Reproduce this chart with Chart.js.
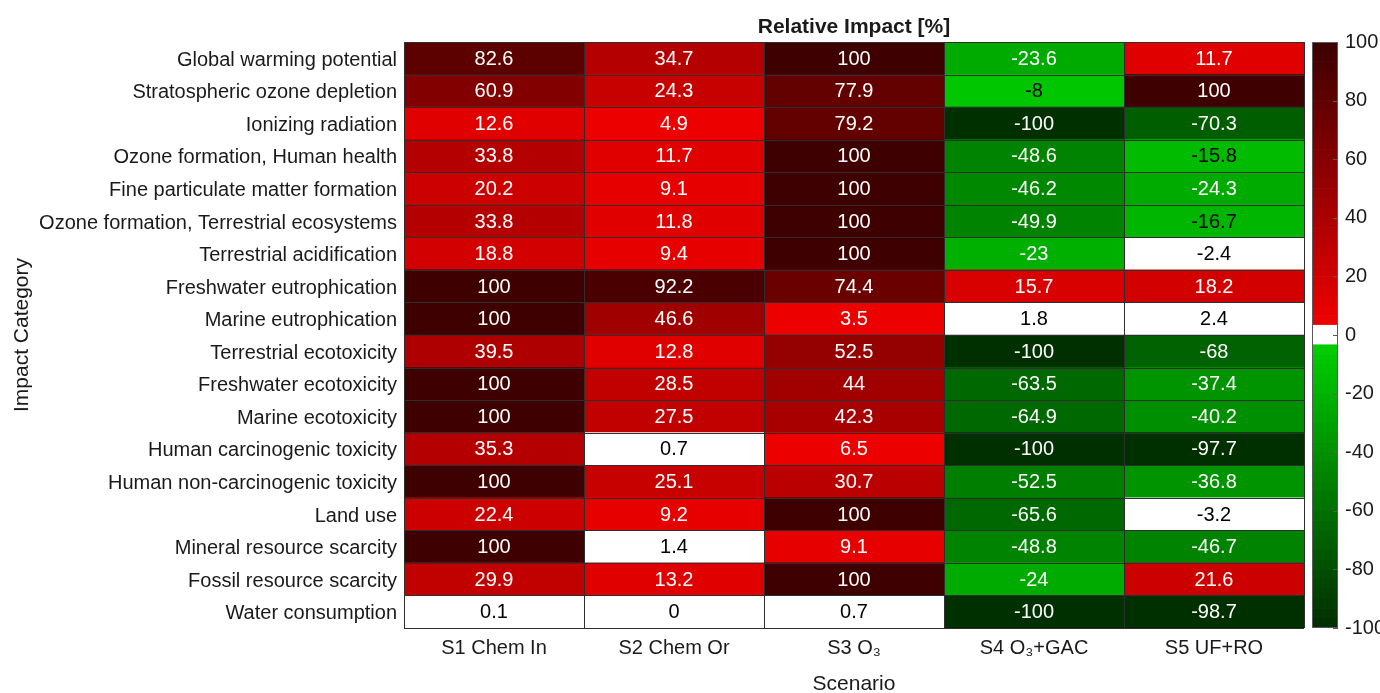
<!DOCTYPE html>
<html>
<head>
<meta charset="utf-8">
<script src="https://cdn.jsdelivr.net/npm/chart.js@4.4.1/dist/chart.umd.min.js"></script>
<style>
  html, body { margin: 0; padding: 0; background: #ffffff; }
  #wrap { position: relative; width: 1380px; height: 693px; }
  #main { position: absolute; left: 0; top: 0; }
  #cbar { position: absolute; left: 1300px; top: 0; }
</style>
</head>
<body>
<div id="wrap">
  <canvas id="main" width="1380" height="693"></canvas>
  <canvas id="cbar" width="80" height="693"></canvas>
</div>
<script>
// ---------------- data ----------------
const categories = [
  'Global warming potential',
  'Stratospheric ozone depletion',
  'Ionizing radiation',
  'Ozone formation, Human health',
  'Fine particulate matter formation',
  'Ozone formation, Terrestrial ecosystems',
  'Terrestrial acidification',
  'Freshwater eutrophication',
  'Marine eutrophication',
  'Terrestrial ecotoxicity',
  'Freshwater ecotoxicity',
  'Marine ecotoxicity',
  'Human carcinogenic toxicity',
  'Human non-carcinogenic toxicity',
  'Land use',
  'Mineral resource scarcity',
  'Fossil resource scarcity',
  'Water consumption'
];
const scenarios = ['S1 Chem In', 'S2 Chem Or', 'S3 O\u2083', 'S4 O\u2083+GAC', 'S5 UF+RO'];
const s1ChemIn = [82.6, 60.9, 12.6, 33.8, 20.2, 33.8, 18.8, 100, 100, 39.5, 100, 100, 35.3, 100, 22.4, 100, 29.9, 0.1];
const s2ChemOr = [34.7, 24.3, 4.9, 11.7, 9.1, 11.8, 9.4, 92.2, 46.6, 12.8, 28.5, 27.5, 0.7, 25.1, 9.2, 1.4, 13.2, 0];
const s3O3     = [100, 77.9, 79.2, 100, 100, 100, 100, 74.4, 3.5, 52.5, 44, 42.3, 6.5, 30.7, 100, 9.1, 100, 0.7];
const s4O3GAC  = [-23.6, -8, -100, -48.6, -46.2, -49.9, -23, 15.7, 1.8, -100, -63.5, -64.9, -100, -52.5, -65.6, -48.8, -24, -100];
const s5UFRO   = [11.7, 100, -70.3, -15.8, -24.3, -16.7, -2.4, 18.2, 2.4, -68, -37.4, -40.2, -97.7, -36.8, -3.2, -46.7, 21.6, -98.7];
const seriesValues = [s1ChemIn, s2ChemOr, s3O3, s4O3GAC, s5UFRO];
const colorbarTicks = [-100, -80, -60, -40, -20, 0, 20, 40, 60, 80, 100];
const colorMin = -100, colorMax = 100, colorLevels = 60;

// ---------------- colormap (style) ----------------
function levelOf(v) {
  return Math.min(colorLevels - 1, Math.max(0, Math.floor((v - colorMin) / (colorMax - colorMin) * colorLevels)));
}
function levelRGB(l) {
  if (l === 29 || l === 30) return [255, 255, 255];
  if (l >= 31) {
    const idx = l - 31;
    return [Math.round(236 - idx / 28 * 174), 0, 0];
  }
  return [0, Math.round(48 + l / 28 * 156), 0];
}
function rgbStr(c) { return 'rgb(' + c[0] + ',' + c[1] + ',' + c[2] + ')'; }
function colorFor(v) { return rgbStr(levelRGB(levelOf(v))); }
function textColorFor(v) {
  const c = levelRGB(levelOf(v));
  const lum = (0.299 * c[0] + 0.587 * c[1] + 0.114 * c[2]) / 255;
  return lum > 0.412 ? '#000000' : '#ffffff';
}

const FONT = "'Liberation Sans', Arial, Helvetica, sans-serif";
const FS = 20;

// ---------------- main heatmap ----------------
const datasets = scenarios.map((name, i) => ({
  label: name,
  data: categories.map(() => [i, i + 1]),
  values: seriesValues[i],
  backgroundColor: seriesValues[i].map(colorFor),
  borderWidth: 0,
  barPercentage: 1,
  categoryPercentage: 1,
  grouped: false
}));

// cell borders along the scales' cell boundaries, then the cell values
const cellGridAndText = {
  id: 'cellGridAndText',
  afterDatasetsDraw(chart) {
    const ctx = chart.ctx;
    const xs = chart.scales.x, ys = chart.scales.y;
    const a = chart.chartArea;
    ctx.save();
    ctx.strokeStyle = '#2e2e2e';
    ctx.lineWidth = 1;
    ctx.beginPath();
    for (let i = 0; i <= scenarios.length; i++) {
      const x = Math.round(xs.getPixelForValue(i)) + 0.5;
      ctx.moveTo(x, a.top);
      ctx.lineTo(x, a.bottom);
    }
    for (let r = 0; r <= categories.length; r++) {
      const y = Math.round(ys.getPixelForValue(r - 0.5)) + 0.5;
      ctx.moveTo(a.left, y);
      ctx.lineTo(a.right, y);
    }
    ctx.stroke();
    ctx.font = FS + 'px ' + FONT;
    ctx.textAlign = 'center';
    ctx.textBaseline = 'middle';
    chart.data.datasets.forEach((ds, di) => {
      const meta = chart.getDatasetMeta(di);
      meta.data.forEach((bar, ri) => {
        const v = ds.values[ri];
        const p = bar.getProps(['x', 'y', 'base'], true);
        const cx = (p.x + p.base) / 2;
        ctx.fillStyle = textColorFor(v);
        ctx.fillText(String(v), cx, p.y + 1);
      });
    });
    ctx.restore();
  }
};

new Chart(document.getElementById('main'), {
  type: 'bar',
  data: { labels: categories, datasets: datasets },
  options: {
    responsive: false,
    animation: false,
    indexAxis: 'y',
    layout: { padding: { left: 0, right: 76, top: 0, bottom: 0 } },
    plugins: {
      legend: { display: false },
      tooltip: { enabled: false },
      title: {
        display: true,
        text: 'Relative Impact [%]',
        fullSize: false,
        color: '#1a1a1a',
        font: { family: FONT, size: 21, weight: 'bold', lineHeight: 1.2 },
        padding: { top: 15, bottom: 1.8 }
      }
    },
    scales: {
      x: {
        type: 'linear',
        min: 0,
        max: scenarios.length,
        position: 'bottom',
        afterBuildTicks(axis) {
          axis.ticks = scenarios.map((s, i) => ({ value: i + 0.5 }));
        },
        afterFit(scale) { scale.height = 65; },
        ticks: {
          autoSkip: false,
          maxRotation: 0,
          padding: 8,
          color: '#1a1a1a',
          font: { family: FONT, size: FS },
          callback: (v) => scenarios[Math.floor(v)]
        },
        grid: { display: false, drawTicks: false },
        border: { display: false },
        title: {
          display: true,
          text: 'Scenario',
          color: '#1a1a1a',
          font: { family: FONT, size: 21 },
          padding: { top: 0, bottom: -4 }
        }
      },
      y: {
        type: 'category',
        offset: true,
        afterFit(scale) { scale.width = 404; },
        ticks: {
          autoSkip: false,
          padding: 7,
          labelOffset: 2,
          color: '#1a1a1a',
          font: { family: FONT, size: FS }
        },
        grid: { display: false, drawTicks: false },
        border: { display: false },
        title: {
          display: true,
          text: 'Impact Category',
          color: '#1a1a1a',
          font: { family: FONT, size: 21 },
          padding: { top: 10, bottom: 0 }
        }
      }
    }
  },
  plugins: [cellGridAndText]
});

// ---------------- colorbar ----------------
const levelIdx = Array.from({ length: colorLevels }, (_, l) => l);
const cbDatasets = levelIdx.map(l => {
  const lo = colorMin + l * (colorMax - colorMin) / colorLevels;
  const hi = colorMin + (l + 1) * (colorMax - colorMin) / colorLevels;
  return {
    data: [[lo, hi]],
    backgroundColor: rgbStr(levelRGB(l)),
    borderWidth: 0,
    barPercentage: 1,
    categoryPercentage: 1,
    grouped: false
  };
});

const cbOutline = {
  id: 'cbOutline',
  afterDraw(chart) {
    const a = chart.chartArea;
    const ctx = chart.ctx;
    ctx.save();
    ctx.strokeStyle = '#5a5a5a';
    ctx.lineWidth = 1;
    ctx.strokeRect(Math.round(a.left) + 0.5, Math.round(a.top) + 0.5,
                   Math.round(a.right - a.left) - 1, Math.round(a.bottom - a.top) - 1);
    const ys = chart.scales.y;
    colorbarTicks.forEach(t => {
      const y = Math.round(ys.getPixelForValue(t)) + 0.5;
      ctx.beginPath();
      ctx.moveTo(a.right - 5, y);
      ctx.lineTo(a.right, y);
      ctx.stroke();
    });
    ctx.restore();
  }
};

new Chart(document.getElementById('cbar'), {
  type: 'bar',
  data: { labels: ['Relative Impact [%]'], datasets: cbDatasets },
  options: {
    responsive: false,
    animation: false,
    layout: { padding: { left: 12, right: 0, top: 42, bottom: 65 } },
    plugins: { legend: { display: false }, tooltip: { enabled: false } },
    scales: {
      x: { display: false },
      y: {
        type: 'linear',
        position: 'right',
        min: colorMin,
        max: colorMax,
        afterFit(scale) { scale.width = 42; },
        afterBuildTicks(axis) {
          axis.ticks = colorbarTicks.map(v => ({ value: v }));
        },
        ticks: {
          padding: 7,
          color: '#1a1a1a',
          font: { family: FONT, size: FS }
        },
        grid: { display: false, drawOnChartArea: false, drawTicks: false },
        border: { display: false }
      }
    }
  },
  plugins: [cbOutline]
});
</script>
</body>
</html>
